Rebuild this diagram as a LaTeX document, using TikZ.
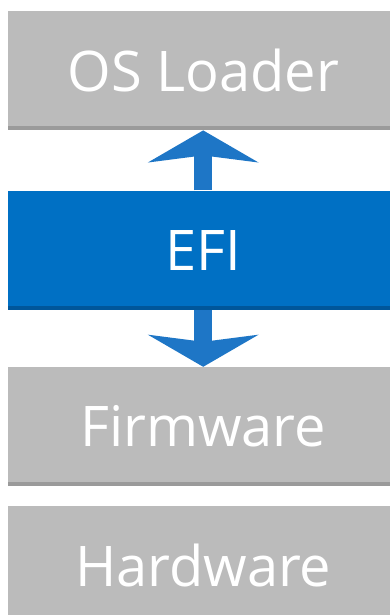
\documentclass[tikz,border=0pt]{standalone}
\usepackage{fontspec}
\setmainfont{Open Sans}
\usepackage{xcolor}
\usepackage{tikz}
\usetikzlibrary{arrows.meta,positioning}
\definecolor{layergray}{HTML}{BBBBBB}
\definecolor{edgegray}{HTML}{9A9A9A}
\definecolor{efiblue}{HTML}{0070C4}
\definecolor{edgeblue}{HTML}{00569A}
\definecolor{arrowblue}{HTML}{1E76C6}
\tikzset{
  layer/.style  ={fill=layergray,text=white,minimum width=390pt,minimum height=119pt,
                  inner sep=0pt,font=\fontsize{56}{60}\selectfont,
                  path picture={\fill[edgegray] (path picture bounding box.south west)
                    rectangle ([yshift=4pt]path picture bounding box.south east);}},
  efilayer/.style={layer,fill=efiblue,
                  path picture={\fill[edgeblue] (path picture bounding box.south west)
                    rectangle ([yshift=4pt]path picture bounding box.south east);}},
  call/.style   ={-{Stealth[length=32pt,width=110pt,inset=7pt]},line width=18pt,draw=arrowblue}
}
\begin{document}
\begin{tikzpicture}
  \begin{scope}
    \clip (0,0) rectangle (390pt,-615pt);
    \node[layer,anchor=north west] (loader) at (8pt,-11pt) {OS Loader};
    \node[efilayer,below=60pt of loader] (efi) {EFI};
    \node[layer,below=57pt of efi] (firmware) {Firmware};
    \node[layer,below=20pt of firmware] (hardware) {Hardware};
    \draw[call] (efi.north) -- (loader.south);
    \draw[call] (efi.south) -- (firmware.north);
  \end{scope}
  \pgfresetboundingbox
  \useasboundingbox (0,0) rectangle (390pt,-615pt);
\end{tikzpicture}
\end{document}
